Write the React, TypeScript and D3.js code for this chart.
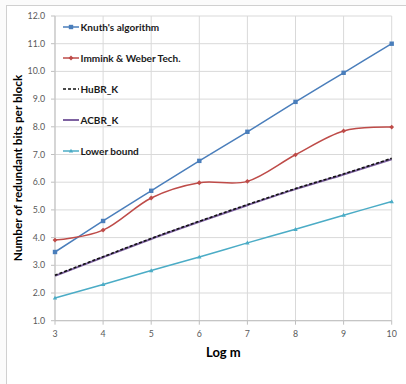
import React from "react";
import * as d3 from "d3";

const xValues = [3, 4, 5, 6, 7, 8, 9, 10];
const knuth = [3.48, 4.6, 5.69, 6.77, 7.82, 8.9, 9.95, 11.0];
const immink = [3.91, 4.27, 5.43, 5.98, 6.03, 6.99, 7.85, 7.99];
const hubr = [2.64, 3.31, 3.97, 4.59, 5.19, 5.77, 6.3, 6.86];
const acbr = [2.62, 3.29, 3.95, 4.57, 5.17, 5.75, 6.28, 6.83];
const lowerBound = [1.82, 2.31, 2.81, 3.3, 3.81, 4.3, 4.81, 5.3];
const yTicks = [1, 2, 3, 4, 5, 6, 7, 8, 9, 10, 11, 12];

const seriesNames = ["Knuth's algorithm", "Immink & Weber Tech.", "HuBR_K", "ACBR_K", "Lower bound"];

type Series = { name: string; values: number[]; color: string; dash?: string; marker: string; width: number };

const series: Series[] = [
  { name: seriesNames[0], values: knuth, color: "#4a7ebb", marker: "square", width: 1.5 },
  { name: seriesNames[1], values: immink, color: "#be4b48", marker: "diamond", width: 1.5 },
  { name: seriesNames[3], values: acbr, color: "#7e62a1", marker: "none", width: 2 },
  { name: seriesNames[2], values: hubr, color: "#111111", dash: "3,2", marker: "none", width: 1.6 },
  { name: seriesNames[4], values: lowerBound, color: "#4bacc6", marker: "triangle", width: 1.5 },
];

const legendOrder = [0, 1, 3, 2, 4];

function Marker({ type, x, y, color }: { type: string; x: number; y: number; color: string }) {
  if (type === "square") return <rect x={x - 2.2} y={y - 2.2} width={4.4} height={4.4} fill={color} />;
  if (type === "diamond")
    return <path d={`M${x},${y - 2.4}L${x + 2.4},${y}L${x},${y + 2.4}L${x - 2.4},${y}Z`} fill={color} />;
  if (type === "triangle")
    return <path d={`M${x},${y - 2.3}L${x + 2.2},${y + 1.6}L${x - 2.2},${y + 1.6}Z`} fill={color} />;
  return null;
}

export default function App() {
  const W = 406,
    H = 384;
  const left = 55,
    right = 391.7,
    top = 16,
    bottom = 320.7;
  const x = d3.scaleLinear().domain([3, 10]).range([left, right]);
  const y = d3.scaleLinear().domain([1, 12]).range([bottom, top]);
  const line = d3
    .line<number>()
    .x((_, i) => x(xValues[i]))
    .y((d) => y(d))
    .curve(d3.curveCardinal.tension(0));
  const font = "Lato, 'Open Sans', sans-serif";
  const gridColor = "#d9d9d9";
  return (
    <svg width={W} height={H} style={{ position: "absolute", left: 0, top: 0, background: "#fff" }}>
      <rect x={0} y={0} width={W} height={H} fill="#fbfbfb" />
      <rect x={6.5} y={5.5} width={W} height={H} fill="#ffffff" stroke="#d0d0d0" />
      {yTicks.map((t) => (
        <g key={"y" + t}>
          <line x1={left} x2={right} y1={y(t)} y2={y(t)} stroke={gridColor} strokeWidth={1} />
          <line x1={left - 4} x2={left} y1={y(t)} y2={y(t)} stroke="#bfbfbf" />
          <text x={left - 10} y={y(t) + 3} fontSize={8.8} fill="#595959" textAnchor="end" fontFamily={font}>
            {t.toFixed(1)}
          </text>
        </g>
      ))}
      {xValues.map((v) => (
        <g key={"x" + v}>
          <line x1={x(v)} x2={x(v)} y1={top} y2={bottom} stroke={gridColor} strokeWidth={1} />
          <line x1={x(v)} x2={x(v)} y1={bottom} y2={bottom + 4} stroke="#bfbfbf" />
          <text x={x(v)} y={bottom + 16} fontSize={8.8} fill="#595959" textAnchor="middle" fontFamily={font}>
            {v}
          </text>
        </g>
      ))}
      <line x1={left} x2={left} y1={top} y2={bottom} stroke="#bfbfbf" />
      <line x1={left} x2={right} y1={bottom} y2={bottom} stroke="#bfbfbf" />
      {series.map((s) => (
        <g key={s.name}>
          <path d={line(s.values) || ""} fill="none" stroke={s.color} strokeWidth={s.width} strokeDasharray={s.dash} />
          {s.values.map((v, i) => (
            <Marker key={i} type={s.marker} x={x(xValues[i])} y={y(v)} color={s.color} />
          ))}
        </g>
      ))}
      {legendOrder.map((si, k) => {
        const s = series[si];
        const ly = 27 + k * 31;
        return (
          <g key={"l" + k}>
            <line x1={63} x2={79} y1={ly} y2={ly} stroke={s.color} strokeWidth={s.width} strokeDasharray={s.dash} />
            <Marker type={s.marker} x={71} y={ly} color={s.color} />
            <text x={80.5} y={ly + 3.5} fontSize={10} fontWeight="bold" fill="#1a1a1a" fontFamily={font}>
              {s.name}
            </text>
          </g>
        );
      })}
      <text
        transform={`translate(22,168) rotate(-90)`}
        textAnchor="middle"
        fontSize={11.8}
        fontWeight="bold"
        fill="#000"
        fontFamily={font}
      >
        Number of redundant bits per block
      </text>
      <text x={(left + right) / 2} y={356.5} textAnchor="middle" fontSize={13} fontWeight="bold" fill="#000" fontFamily={font}>
        Log m
      </text>
    </svg>
  );
}
